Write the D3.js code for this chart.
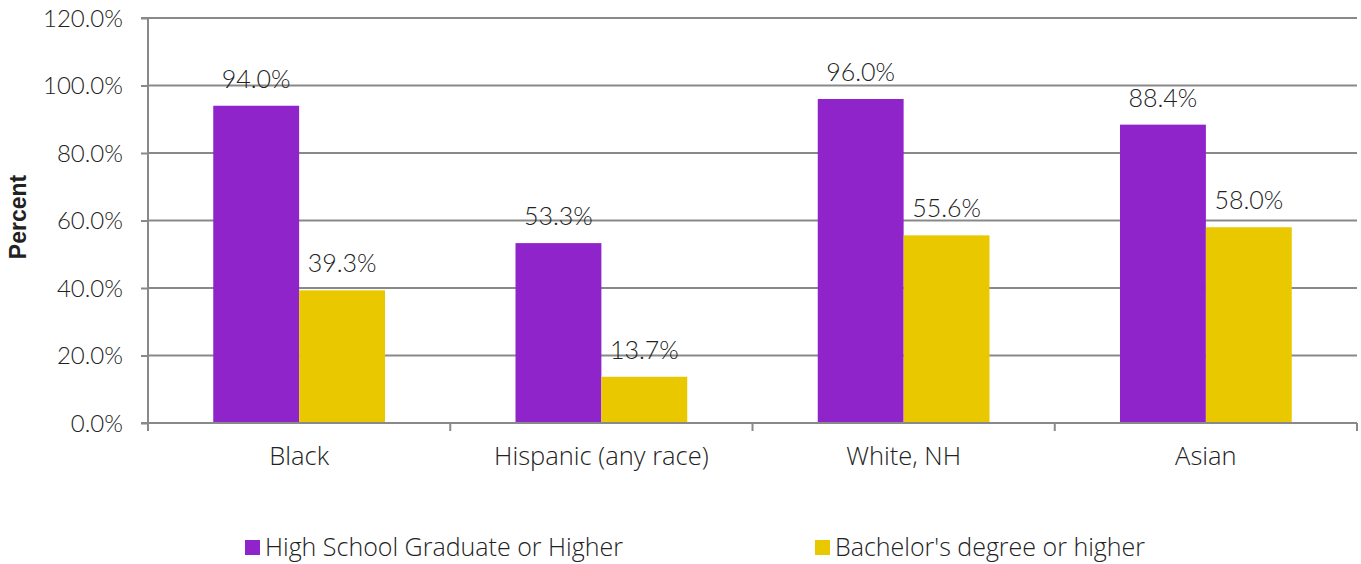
<!DOCTYPE html>
<html><head><meta charset="utf-8">
<script src="https://cdn.jsdelivr.net/npm/d3@7"></script>
<style>
body{margin:0;background:#fff;}
text{font-family:Lato,"Open Sans",sans-serif;font-weight:300;fill:#222;}
</style></head>
<body><svg id="chart" width="1361" height="564"></svg>
<script>
const categories = ["Black","Hispanic (any race)","White, NH","Asian"];
const seriesNames = ["High School Graduate or Higher","Bachelor's degree or higher"];
const highSchool = [94.0,53.3,96.0,88.4];
const bachelors = [39.3,13.7,55.6,58.0];
const yTicks = [0,20,40,60,80,100,120];
const colors = ["#8E24C9","#EAC800"];

const svg = d3.select("#chart");
const m = {left:148,right:1357,top:18,bottom:423};
const x = d3.scaleBand().domain(categories).range([m.left,m.right]).paddingInner(0).paddingOuter(0);
const y = d3.scaleLinear().domain([0,120]).range([m.bottom,m.top]);
const inner = d3.scaleBand().domain([0,1]).range([0,x.bandwidth()]).paddingInner(0).paddingOuter(0.76);

// gridlines
svg.append("g").selectAll("line").data(yTicks.filter(d=>d>0)).join("line")
  .attr("x1",m.left).attr("x2",m.right).attr("y1",d=>y(d)).attr("y2",d=>y(d))
  .attr("stroke","#898989").attr("stroke-width",2);

// y axis
const ya = svg.append("g").attr("transform",`translate(${m.left},0)`)
  .call(d3.axisLeft(y).tickValues(yTicks).tickSize(7).tickPadding(18).tickFormat(d=>d.toFixed(1)+"%"));
ya.select(".domain").attr("stroke","#898989").attr("stroke-width",2).attr("d",`M-7,${m.top}H0V${m.bottom}`);
ya.selectAll(".tick line").attr("stroke","#898989").attr("stroke-width",2);
ya.selectAll(".tick text").style("font-size","24px").style("font-family","Lato, sans-serif").attr("fill","#222").attr("dy","0.35em");

// bars
const data = [highSchool,bachelors];
data.forEach((vals,si)=>{
  const g = svg.append("g");
  g.selectAll("rect").data(categories).join("rect")
    .attr("x",(c)=>x(c)+inner(si)).attr("width",inner.bandwidth())
    .attr("y",(c,i)=>y(vals[i])).attr("height",(c,i)=>y(0)-y(vals[i]))
    .attr("fill",colors[si]);
  g.selectAll("text").data(categories).join("text")
    .attr("x",(c)=>x(c)+inner(si)+inner.bandwidth()/2)
    .attr("y",(c,i)=>y(vals[i])-18)
    .attr("text-anchor","middle").style("font-size","25px")
    .text((c,i)=>vals[i].toFixed(1)+"%");
});

// x axis
const xa = svg.append("g").attr("transform",`translate(0,${m.bottom})`)
  .call(d3.axisBottom(x).tickSize(0).tickPadding(24));
xa.select(".domain").attr("stroke","#898989").attr("stroke-width",2).attr("d",`M${m.left-7},0H${m.right}`);
xa.selectAll(".tick text").style("font-size","25.5px").style("font-family","'Open Sans', sans-serif").style("font-weight","300").attr("fill","#222");
const bounds = categories.map(c=>x(c)).concat([x(categories[categories.length-1])+x.bandwidth()]);
xa.append("g").selectAll("line").data(bounds).join("line")
  .attr("x1",d=>d).attr("x2",d=>d).attr("y1",0).attr("y2",8)
  .attr("stroke","#898989").attr("stroke-width",2);

// y title
svg.append("text").attr("transform","translate(26,217) rotate(-90)")
  .attr("text-anchor","middle").style("font-size","23px").style("font-weight","700").style("font-family","Liberation Sans, Arial, sans-serif")
  .attr("fill","#000").text("Percent");

// legend
const legX = [245,815];
seriesNames.forEach((n,i)=>{
  svg.append("rect").attr("x",legX[i]).attr("y",540).attr("width",15).attr("height",15).attr("fill",colors[i]);
  svg.append("text").attr("x",legX[i]+20).attr("y",556).style("font-size","25px").style("font-family","'Open Sans', sans-serif").style("font-weight","300").text(n);
});
</script></body></html>
